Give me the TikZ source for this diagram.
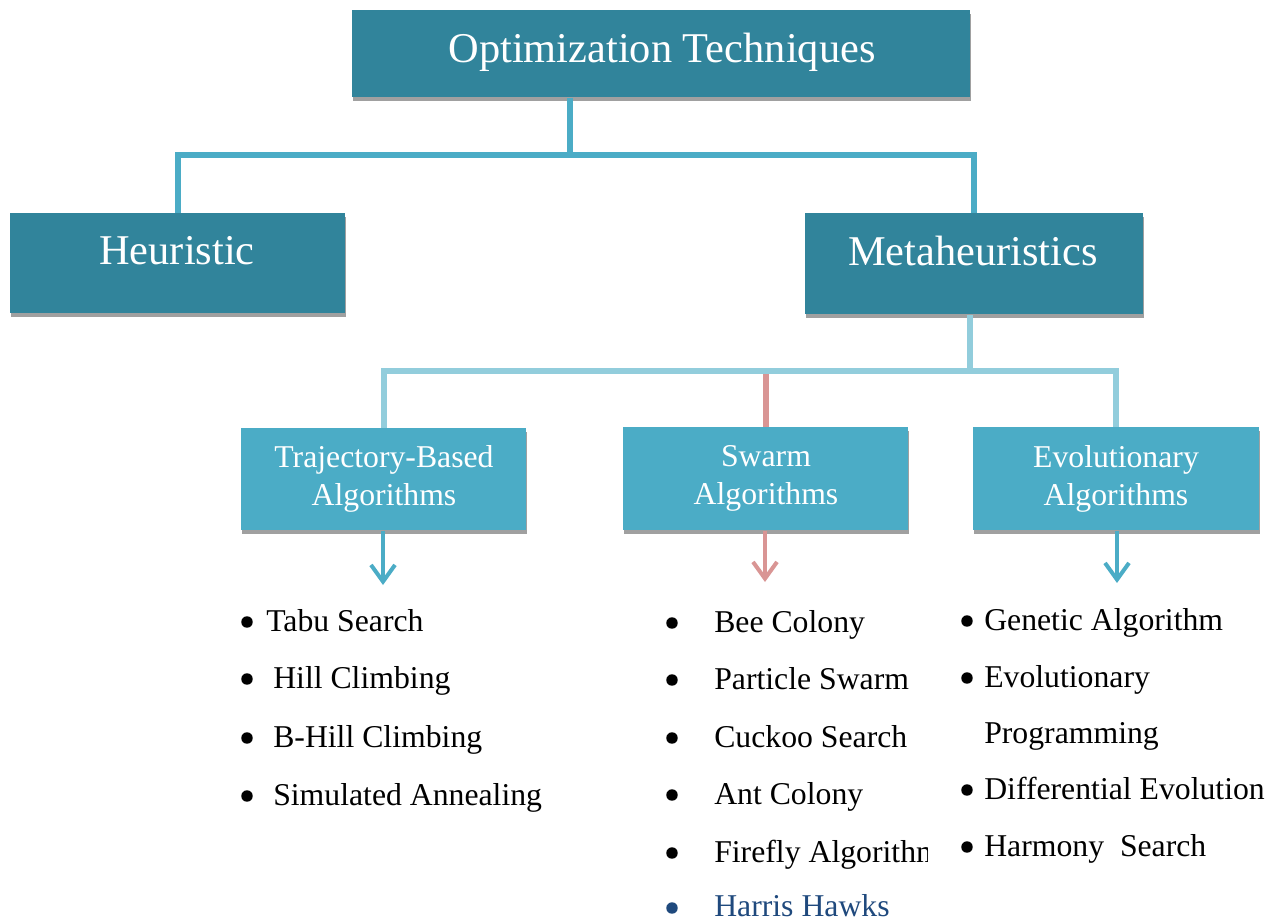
\documentclass[tikz,border=0pt]{standalone}
\usepackage{fontspec}
\setmainfont{Liberation Serif}
\usetikzlibrary{arrows.meta,shadows}

\definecolor{tealdark}{HTML}{31849B}
\definecolor{tealmid}{HTML}{4BACC6}
\definecolor{lightblue}{HTML}{92CDDC}
\definecolor{rose}{HTML}{D99594}
\definecolor{navy}{HTML}{1F497D}
\definecolor{shadowgray}{HTML}{A0A0A0}

\newcommand\headfont{\fontsize{31.8}{36}\selectfont}
\newcommand\subfont{\fontsize{23.8}{28.5}\selectfont}

\tikzset{
  box/.style={draw=none, inner sep=0pt, anchor=north west,
    drop shadow={shadow xshift=0.8pt, shadow yshift=-3pt, fill=shadowgray, opacity=1}},
  darkbox/.style={box, fill=tealdark},
  midbox/.style={box, fill=tealmid},
  headtext/.style={anchor=base, inner sep=0pt, text=white, font=\headfont},
  subtext/.style={anchor=base, inner sep=0pt, text=white, font=\subfont, align=center},
  item/.style={anchor=base west, inner sep=0pt, font=\subfont},
  dot/.style={circle, fill=black, inner sep=0pt, minimum size=8.6pt},
  busdark/.style={draw=tealmid, line width=4.2pt},
  buslight/.style={draw=lightblue, line width=4.2pt},
  busrose/.style={draw=rose, line width=4.2pt},
  downarrow/.style={line width=3pt, -{Straight Barb[length=12.5pt,width=18pt]}},
}

\begin{document}
\begin{tikzpicture}[x=0.75pt, y=-0.75pt]
\useasboundingbox (0,0) rectangle (1277,921);

% junction points of the two connector buses
\coordinate (j1) at (570,155);
\coordinate (j2) at (970,371);

% boxes
\node[darkbox, minimum width=463.5pt, minimum height=65.25pt] (top) at (352,10) {};
\node[darkbox, minimum width=251.25pt, minimum height=75pt] (heur) at (10,213) {};
\node[darkbox, minimum width=253.5pt, minimum height=75.75pt] (meta) at (805,213) {};
\node[midbox, minimum width=213.75pt, minimum height=76.5pt] (traj) at (241,428) {};
\node[midbox, minimum width=213.75pt, minimum height=77.25pt] (swarm) at (623,427) {};
\node[midbox, minimum width=214.5pt, minimum height=77.25pt] (evo) at (973,427) {};

% connectors
\draw[busdark] (j1 |- top.south) -- (j1);
\draw[busdark] (heur.north) |- (j1) -| (meta.north);
\draw[buslight] (j2 |- meta.south) -- (j2);
\draw[busrose] (swarm.north) -- (swarm.north |- j2);
\draw[buslight] (traj.north) |- (j2) -| (evo.north);

% box labels (two-line labels are placed by the baseline of their last line)
\node[headtext] (top-t) at (662,62) {Optimization Techniques};
\node[headtext] (heur-t) at (177,264) {Heuristic};
\node[headtext] (meta-t) at (973,265) {Metaheuristics};
\node[subtext] (traj-t) at (384,505) {Trajectory-Based\\Algorithms};
\node[subtext] (swarm-t) at (766,504) {Swarm\\Algorithms};
\node[subtext] (evo-t) at (1116,505) {Evolutionary\\Algorithms};

% arrows towards the lists
\coordinate (a1) at (383,585);
\coordinate (a2) at (765,582);
\coordinate (a3) at (1117,583);
\draw[downarrow, draw=tealmid] (traj.south -| a1) -- (a1);
\draw[downarrow, draw=rose] (swarm.south -| a2) -- (a2);
\draw[downarrow, draw=tealmid] (evo.south -| a3) -- (a3);

% trajectory-based list
\node[dot] (l1b) at (247,622) {};
\node[item] (l1) at (266,631) {Tabu Search};
\node[dot] (l2b) at (247,679) {};
\node[item] (l2) at (273,688) {Hill Climbing};
\node[dot] (l3b) at (247,738) {};
\node[item] (l3) at (273,747) {B-Hill Climbing};
\node[dot] (l4b) at (247,796) {};
\node[item] (l4) at (273,805) {Simulated Annealing};

% swarm list
\node[dot] (m1b) at (672,623) {};
\node[item] (m1) at (714,632) {Bee Colony};
\node[dot] (m2b) at (672,680) {};
\node[item] (m2) at (714,689) {Particle Swarm};
\node[dot] (m3b) at (672,738) {};
\node[item] (m3) at (714,747) {Cuckoo Search};
\node[dot] (m4b) at (672,795) {};
\node[item] (m4) at (714,804) {Ant Colony};
\node[dot] (m5b) at (672,853) {};
\begin{scope}
  \clip (700,820) rectangle (927,880);
  \node[item] (m5) at (714,862) {Firefly Algorithm};
\end{scope}
\node[dot, fill=navy] (m6b) at (672,908) {};
\node[item, text=navy] (m6) at (714,916) {Harris Hawks};

% evolutionary list
\node[dot] (r1b) at (967,621) {};
\node[item] (r1) at (984,630) {Genetic Algorithm};
\node[dot] (r2b) at (967,678) {};
\node[item] (r2) at (984,687) {Evolutionary};
\node[item] (r2c) at (984,743) {Programming};
\node[dot] (r3b) at (967,790) {};
\node[item] (r3) at (984,799) {Differential Evolution};
\node[dot] (r4b) at (967,847) {};
\node[item] (r4) at (984,856) {Harmony\ \ Search};
\end{tikzpicture}
\end{document}
